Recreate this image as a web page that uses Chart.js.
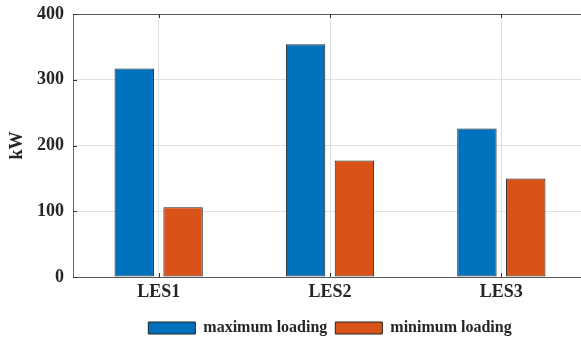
<!DOCTYPE html>
<html>
<head>
<meta charset="utf-8">
<script src="https://cdn.jsdelivr.net/npm/chart.js@4/dist/chart.umd.min.js"></script>
<style>
  html, body { margin: 0; padding: 0; background: #fff; overflow: hidden; width: 581px; height: 339px; }
  #wrap { width: 600px; height: 346px; }
</style>
</head>
<body>
<div id="wrap"><canvas id="c" width="600" height="346"></canvas></div>
<script>
const categories = ["LES1", "LES2", "LES3"];
const maximumLoading = [317, 354, 226];
const minimumLoading = [106, 177, 150];
const seriesNames = ["maximum loading", "minimum loading"];
const yTicks = [0, 100, 200, 300, 400];
const yTitle = "kW";

const FONT = "'Liberation Serif', 'Times New Roman', serif";
const TEXT = "#262626";

const boxPlugin = {
  id: "boxPlugin",
  afterDraw(chart) {
    const { ctx, chartArea: a, scales } = chart;
    ctx.save();
    ctx.strokeStyle = "#5a5a5a";
    ctx.lineWidth = 1;
    ctx.beginPath();
    ctx.moveTo(a.left, a.top + 0.5);
    ctx.lineTo(a.right, a.top + 0.5);
    ctx.moveTo(a.right - 0.5, a.top);
    ctx.lineTo(a.right - 0.5, a.bottom);
    ctx.stroke();
    ctx.strokeStyle = "#333";
    ctx.beginPath();
    scales.y.ticks.forEach((t, i) => {
      const y = Math.round(scales.y.getPixelForTick(i)) + 0.5;
      ctx.moveTo(a.left, y); ctx.lineTo(a.left + 4, y);
    });
    scales.x.ticks.forEach((t, i) => {
      const x = Math.round(scales.x.getPixelForTick(i)) + 0.5;
      ctx.moveTo(x, a.top); ctx.lineTo(x, a.top + 4);
      ctx.moveTo(x, a.bottom); ctx.lineTo(x, a.bottom - 4);
    });
    ctx.stroke();
    ctx.restore();
  }
};

new Chart(document.getElementById("c"), {
  type: "bar",
  data: {
    labels: categories,
    datasets: [
      { label: seriesNames[0], data: maximumLoading, backgroundColor: "#0072BD", borderColor: "#222", borderWidth: 1, borderSkipped: false },
      { label: seriesNames[1], data: minimumLoading, backgroundColor: "#D95319", borderColor: "#222", borderWidth: 1, borderSkipped: false }
    ]
  },
  options: {
    responsive: false,
    animation: false,
    devicePixelRatio: 1,
    layout: { padding: { top: 14, right: 13, left: 0, bottom: 0 } },
    datasets: { bar: { categoryPercentage: 0.57, barPercentage: 0.807 } },
    plugins: {
      tooltip: { enabled: false },
      legend: {
        position: "bottom",
        fullSize: false,
        labels: {
          boxWidth: 47, boxHeight: 12, padding: 8,
          color: TEXT,
          font: { family: FONT, size: 16, weight: "bold" }
        }
      }
    },
    scales: {
      x: {
        grid: { offset: false, color: "#e0e0e0", drawTicks: false },
        border: { color: "#5a5a5a" },
        ticks: { padding: 5, color: TEXT, font: { family: FONT, size: 18, weight: "bold" } },
        afterFit(s) { s.height = 35; }
      },
      y: {
        min: 0, max: 400,
        afterBuildTicks(s) { s.ticks = yTicks.map(v => ({ value: v })); },
        grid: { color: "#e0e0e0", drawTicks: false },
        border: { color: "#6a6a6a" },
        ticks: { padding: 9, color: TEXT, font: { family: FONT, size: 18, weight: "bold" } },
        title: { display: true, text: yTitle, color: TEXT, padding: { top: 7, bottom: 0 }, font: { family: FONT, size: 18, weight: "bold" } },
        afterFit(s) { s.width = 73; s.paddingTop = 0; }
      }
    }
  },
  plugins: [boxPlugin]
});
</script>
</body>
</html>
